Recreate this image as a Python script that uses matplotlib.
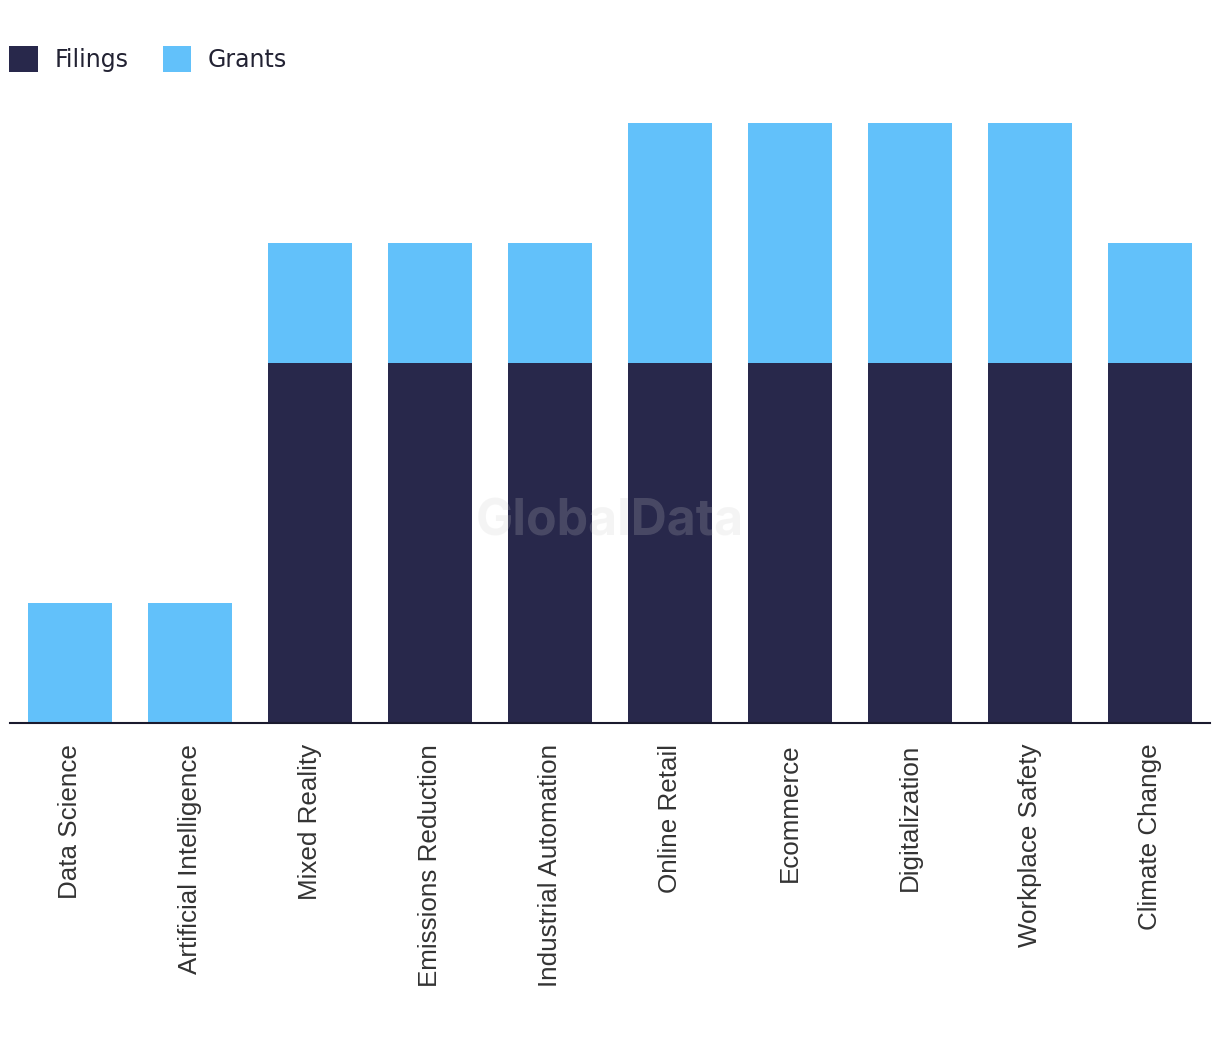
import matplotlib
matplotlib.use("Agg")
import matplotlib.pyplot as plt
import numpy as np

categories = ["Data Science", "Artificial Intelligence", "Mixed Reality",
              "Emissions Reduction", "Industrial Automation", "Online Retail",
              "Ecommerce", "Digitalization", "Workplace Safety", "Climate Change"]
filings = [0, 0, 3, 3, 3, 3, 3, 3, 3, 3]
grants = [1, 1, 1, 1, 1, 2, 2, 2, 2, 1]

navy = "#28284b"
blue = "#62c1fa"

fig = plt.figure(figsize=(12.2, 10.42), dpi=100)
ax = fig.add_axes([10 / 1220, 319 / 1042, 1200 / 1220, 600 / 1042])

x = np.arange(len(categories))
b1 = ax.bar(x, filings, width=0.7, color=navy, label="Filings")
b2 = ax.bar(x, grants, width=0.7, bottom=filings, color=blue, label="Grants")

ax.set_xlim(-0.5, len(categories) - 0.5)
ax.set_ylim(0, 5)
ax.set_yticks([])
for s in ["top", "right", "left"]:
    ax.spines[s].set_visible(False)
ax.spines["bottom"].set_color("#1a1a2e")
ax.spines["bottom"].set_linewidth(1.5)
ax.set_xticks(x)
ax.set_xticklabels(categories, rotation=90, fontsize=18.7, family="Liberation Sans", color="#333333")
ax.tick_params(axis="x", length=0, pad=15)

# watermark
fig.text(610 / 1220, 1 - 522 / 1042, "GlobalData", ha="center", va="center",
         fontsize=36, fontweight="bold", family="Inter", color="#cccccc", alpha=0.2)

leg = fig.legend(handles=[b1, b2], loc="upper left", bbox_to_anchor=(0.0, 1 - 37 / 1042),
                 ncol=2, frameon=False, fontsize=17, handlelength=1.2, handleheight=1.3,
                 handletextpad=0.7, columnspacing=1.45, borderaxespad=0.0, borderpad=0.4)
for t in leg.get_texts():
    t.set_color("#222233")

fig.savefig("out.png", dpi=100)
